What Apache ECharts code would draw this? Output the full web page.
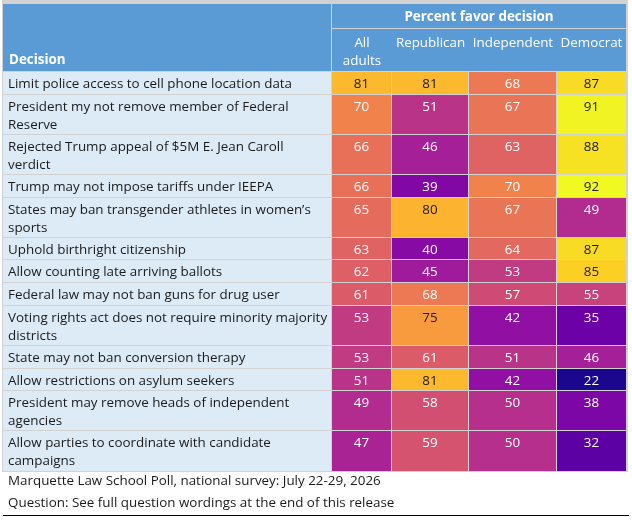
<!DOCTYPE html>
<html>
<head>
<meta charset="utf-8">
<script src="https://cdn.jsdelivr.net/npm/echarts@6/dist/echarts.min.js"></script>
<style>
html,body{margin:0;padding:0;background:#fff;}
#chart{width:632px;height:521px;}
</style>
</head>
<body>
<div id="chart"></div>
<script>
// ---- data ----
const decisions = [
  "Limit police access to cell phone location data",
  "President my not remove member of Federal\nReserve",
  "Rejected Trump appeal of $5M E. Jean Caroll\nverdict",
  "Trump may not impose tariffs under IEEPA",
  "States may ban transgender athletes in women\u2019s\nsports",
  "Uphold birthright citizenship",
  "Allow counting late arriving ballots",
  "Federal law may not ban guns for drug user",
  "Voting rights act does not require minority majority\ndistricts",
  "State may not ban conversion therapy",
  "Allow restrictions on asylum seekers",
  "President may remove heads of independent\nagencies",
  "Allow parties to coordinate with candidate\ncampaigns"
];
const groups = ["All\nadults", "Republican", "Independent", "Democrat"];
const allAdults   = [81, 70, 66, 66, 65, 63, 62, 61, 53, 53, 51, 49, 47];
const republican  = [81, 51, 46, 39, 80, 40, 45, 68, 75, 61, 81, 58, 59];
const independent = [68, 67, 63, 70, 67, 64, 53, 57, 42, 51, 42, 50, 50];
const democrat    = [87, 91, 88, 92, 49, 87, 85, 55, 35, 46, 22, 38, 32];
const headerTitle = "Percent favor decision";
const firstColTitle = "Decision";
const footnotes = [
  "Marquette Law School Poll, national survey: July 22-29, 2026",
  "Question: See full question wordings at the end of this release"
];

// ---- layout ----
const FONT = '"Open Sans", "Noto Sans", sans-serif';
const FS = '13.4px ';
const colEdges = [1, 330, 390, 467, 555, 625];        // table column edges (grid units)
const headerEdges = [4, 29, 72];                        // header rows
const LINE_H = 17.4, ROW_PAD = 5.3;
const rowEdges = [headerEdges[2]];
decisions.forEach(d => {
  const lines = d.split("\n").length;
  rowEdges.push(rowEdges[rowEdges.length - 1] + ROW_PAD + LINE_H * lines);
});

const plasma = ['#0d0887','#41049d','#6a00a8','#8f0da4','#b12a90','#cc4778',
                '#e16462','#f2844b','#fca636','#fcce25','#f0f921'];

const valueCols = [allAdults, republican, independent, democrat];
const valueData = [];
valueCols.forEach((arr, c) => arr.forEach((v, r) => valueData.push([c, r, v])));

function cellRect(api, x0, y0, x1, y1) {
  const p0 = api.coord([x0, y0]);
  const p1 = api.coord([x1, y1]);
  const ax = Math.round(p0[0]), ay = Math.round(p0[1]);
  const bx = Math.round(p1[0]), by = Math.round(p1[1]);
  return {x: ax, y: ay, width: bx - ax - 1, height: by - ay - 1};
}

const chart = echarts.init(document.getElementById('chart'), null, {renderer: 'canvas'});
chart.setOption({
  animation: false,
  backgroundColor: '#ffffff',
  grid: {left: 2, top: 0, width: 626, height: 472, show: true,
         backgroundColor: '#d2d2d2', borderWidth: 0},
  xAxis: {type: 'value', min: 0, max: 626, show: false},
  yAxis: {type: 'value', min: 0, max: 472, inverse: true, show: false},
  visualMap: {
    type: 'continuous', show: false, min: 20, max: 92,
    seriesIndex: 2, dimension: 2,
    inRange: {color: plasma}
  },
  series: [
    { // header
      type: 'custom',
      coordinateSystem: 'cartesian2d',
      data: [[-1]].concat(groups.map((g, i) => [i])),
      renderItem: function (params, api) {
        const i = api.value(0);
        const children = [];
        if (i === -1) {
          const r = cellRect(api, colEdges[0], headerEdges[0], colEdges[1], headerEdges[2]);
          children.push({type: 'rect', shape: r, style: {fill: '#5b9bd5'}});
          children.push({type: 'text', x: r.x + 6, y: r.y + r.height - 11,
            style: {text: firstColTitle, fill: '#fff', font: 'bold ' + FS + FONT, align: 'left', verticalAlign: 'middle'}});
          const t = cellRect(api, colEdges[1], headerEdges[0], colEdges[5], headerEdges[1]);
          children.push({type: 'rect', shape: t, style: {fill: '#5b9bd5'}});
          children.push({type: 'text', x: t.x + t.width / 2, y: t.y + 13.5,
            style: {text: headerTitle, fill: '#fff', font: 'bold ' + FS + FONT, align: 'center', verticalAlign: 'middle'}});
        } else {
          const r = cellRect(api, colEdges[i + 1], headerEdges[1], colEdges[i + 2], headerEdges[2] );
          r.width += (i < 3 ? 1 : 0);
          children.push({type: 'rect', shape: r, style: {fill: '#5b9bd5'}});
          children.push({type: 'text', x: r.x + r.width / 2, y: r.y + 5,
            style: {text: groups[i], fill: '#fff', font: FS + FONT, align: 'center', verticalAlign: 'top', lineHeight: 18}});
        }
        return {type: 'group', children: children};
      }
    },
    { // decision labels
      type: 'custom',
      coordinateSystem: 'cartesian2d',
      data: decisions.map((d, i) => [i]),
      renderItem: function (params, api) {
        const i = api.value(0);
        const r = cellRect(api, colEdges[0], rowEdges[i], colEdges[1], rowEdges[i + 1]);
        return {type: 'group', children: [
          {type: 'rect', shape: r, style: {fill: '#ddebf7'}},
          {type: 'text', x: r.x + 5, y: r.y + 3.5,
           style: {text: decisions[i], fill: '#1a1a1a', font: FS + FONT, align: 'left', verticalAlign: 'top', lineHeight: 18}}
        ]};
      }
    },
    { // values
      type: 'custom',
      coordinateSystem: 'cartesian2d',
      dimensions: ['col', 'row', 'value'],
      encode: {x: 0, y: 1},
      data: valueData,
      renderItem: function (params, api) {
        const c = api.value(0), rr = api.value(1), v = api.value(2);
        const r = cellRect(api, colEdges[c + 1], rowEdges[rr], colEdges[c + 2], rowEdges[rr + 1]);
        return {type: 'group', children: [
          {type: 'rect', shape: r, style: {fill: api.visual('color')}},
          {type: 'text', x: r.x + r.width / 2, y: r.y + 3.5,
           style: {text: String(v), fill: v >= 72 ? '#1a1a1a' : '#ffffff', font: FS + FONT,
                   align: 'center', verticalAlign: 'top', lineHeight: 18}}
        ]};
      }
    }
  ],
  graphic: [
    {type: 'text', left: 8, top: 475, style: {text: footnotes[0], fill: '#1a1a1a', font: FS + FONT}},
    {type: 'text', left: 8, top: 497, style: {text: footnotes[1], fill: '#1a1a1a', font: FS + FONT}},
    {type: 'line', shape: {x1: 3, y1: 515.5, x2: 629, y2: 515.5}, style: {stroke: '#000', lineWidth: 1.2}}
  ]
});
</script>
</body>
</html>
